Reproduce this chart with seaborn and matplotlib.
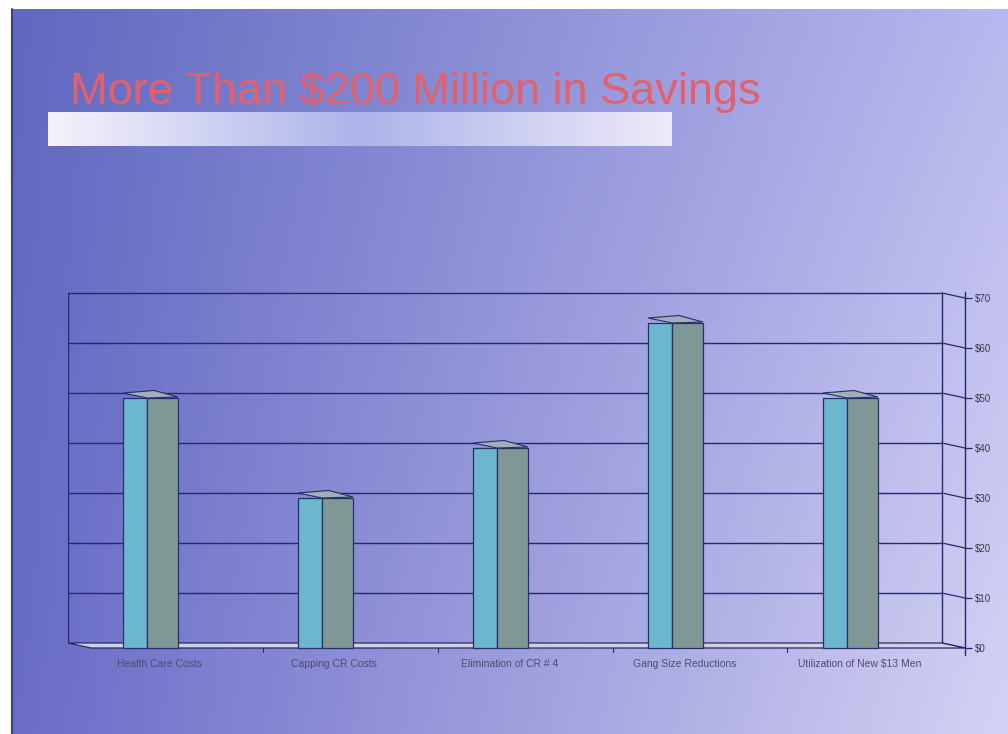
import numpy as np
import pandas as pd
import matplotlib
matplotlib.use("Agg")
import matplotlib.pyplot as plt
import seaborn as sns
from matplotlib.patches import Polygon
from matplotlib.colors import to_rgb

# ---------------- data ----------------
title = "More Than $200 Million in Savings"
categories = ["Health Care Costs", "Capping CR Costs", "Elimination of CR # 4",
              "Gang Size Reductions", "Utilization of New $13 Men"]
savings = [50, 30, 40, 65, 50]
tick_values = [0, 10, 20, 30, 40, 50, 60, 70]
tick_labels = ["$0", "$10", "$20", "$30", "$40", "$50", "$60", "$70"]

sns.set_style("white")
plt.rcParams["font.family"] = ["Liberation Sans", "DejaVu Sans"]

W, H = 1008, 734
fig = plt.figure(figsize=(W / 100, H / 100), dpi=100)
fig.patch.set_facecolor("white")


def fpos(x0, y0, x1, y1):
    return [x0 / W, 1 - y1 / H, (x1 - x0) / W, (y1 - y0) / H]


# ---------------- slide background ----------------
bg = fig.add_axes([0, 0, 1, 1])
bg.set_xlim(0, W)
bg.set_ylim(H, 0)
bg.axis("off")

tl, tr = np.array(to_rgb("#6068bf")), np.array(to_rgb("#b8b8ee"))
bl, br = np.array(to_rgb("#6a6cc8")), np.array(to_rgb("#d4d2f4"))
u = np.linspace(0, 1, 120)[None, :, None]
v = np.linspace(0, 1, 90)[:, None, None]
grad = (1 - v) * ((1 - u) * tl + u * tr) + v * ((1 - u) * bl + u * br)
bg.imshow(grad, extent=(12, W, H, 9), aspect="auto", interpolation="bicubic", zorder=0)
bg.plot([12, 12], [9, H], color="#3a3f96", lw=1.5, zorder=1)

# white gradient bar under title
stops = [(0.0, "#f6f2fb"), (0.5, "#acb4ea"), (1.0, "#eeeaf9")]
xs = np.linspace(0, 1, 200)
bar_rgb = np.stack([np.interp(xs, [s[0] for s in stops],
                              [to_rgb(s[1])[k] for s in stops]) for k in range(3)], axis=-1)
bg.imshow(bar_rgb[None, :, :], extent=(48, 672, 146, 112), aspect="auto",
          interpolation="bicubic", zorder=1)

bg.text(70, 104, title, fontsize=32.5, color="#e4606c", va="baseline", ha="left", zorder=2)

# ---------------- chart ----------------
navy = "#25286e"
px_per_cat = 175.0
left_px, right_px = 68, 965
c0_px = 150.5
xl = -(c0_px - left_px) / px_per_cat
xr = 4 + (right_px - (c0_px + 4 * px_per_cat)) / px_per_cat
depth_x = 23 / px_per_cat
depth_y = 1.0
x_back = xr - depth_x

ax = fig.add_axes(fpos(left_px, 292, right_px, 655))
ax.set_facecolor("none")
ax.set_xlim(xl, xr)
ax.set_ylim(-1.4, 71.2)

# back wall grid lines + connectors to the right axis
for t in tick_values:
    if t > 0:
        ax.plot([xl, x_back], [t + depth_y, t + depth_y], color=navy, lw=1.0, zorder=1)
    ax.plot([x_back, xr], [t + depth_y, t], color=navy, lw=0.9, zorder=1)
ax.plot([xl, xl], [depth_y, 70 + depth_y], color=navy, lw=1.0, zorder=1)
ax.plot([x_back, x_back], [depth_y, 70 + depth_y], color=navy, lw=1.0, zorder=1)

# floor
floor = Polygon([(xl, depth_y), (x_back, depth_y), (xr, 0), (xl + depth_x, 0)],
                closed=True, facecolor="#d2d2dc", edgecolor=navy, lw=0.9, zorder=2)
ax.add_patch(floor)
for k in range(4):
    ax.plot([k + 0.64, k + 0.64], [0, -0.8], color=navy, lw=0.8, zorder=2)

# bars
df = pd.DataFrame({"category": categories, "savings": savings})
idx = np.arange(len(categories))
cyan_l, split, gray_r = -0.157, -0.020, 0.157
df["pos_front"] = idx + (cyan_l + split) / 2
df["pos_side"] = idx + (split + gray_r) / 2

sns.barplot(data=df, x="pos_front", y="savings", native_scale=True,
            width=split - cyan_l, color="#6cb6ce", saturation=1, errorbar=None,
            edgecolor="#23306a", linewidth=0.9, ax=ax, zorder=3)
sns.barplot(data=df, x="pos_side", y="savings", native_scale=True,
            width=gray_r - split, color="#7f9896", saturation=1, errorbar=None,
            edgecolor="#23306a", linewidth=0.9, ax=ax, zorder=3)

for i, val in enumerate(savings):
    top = Polygon([(i + cyan_l, val + 1.0), (i + split, val), (i + gray_r, val + 0.2),
                   (i + 0.02, val + 1.5)], closed=True, facecolor="#a4aeb8",
                  edgecolor="#23306a", lw=0.8, zorder=4)
    ax.add_patch(top)

ax.set_xlim(xl, xr)
ax.set_ylim(-1.4, 71.2)
ax.set_xlabel("")
ax.set_ylabel("")

ax.set_xticks(idx + 0.05)
ax.set_xticklabels(categories, fontsize=7.5, color="#4c4c72")
ax.tick_params(axis="x", length=0, pad=3)

ax.yaxis.tick_right()
ax.set_yticks(tick_values)
ax.set_yticklabels(tick_labels, fontsize=7, color="#3a3a50")
ax.tick_params(axis="y", length=5, width=0.9, color=navy, pad=2)

for s in ["left", "top", "bottom"]:
    ax.spines[s].set_visible(False)
ax.spines["right"].set_color(navy)
ax.spines["right"].set_linewidth(1.0)

fig.savefig("out.png", dpi=100, facecolor=fig.get_facecolor())
